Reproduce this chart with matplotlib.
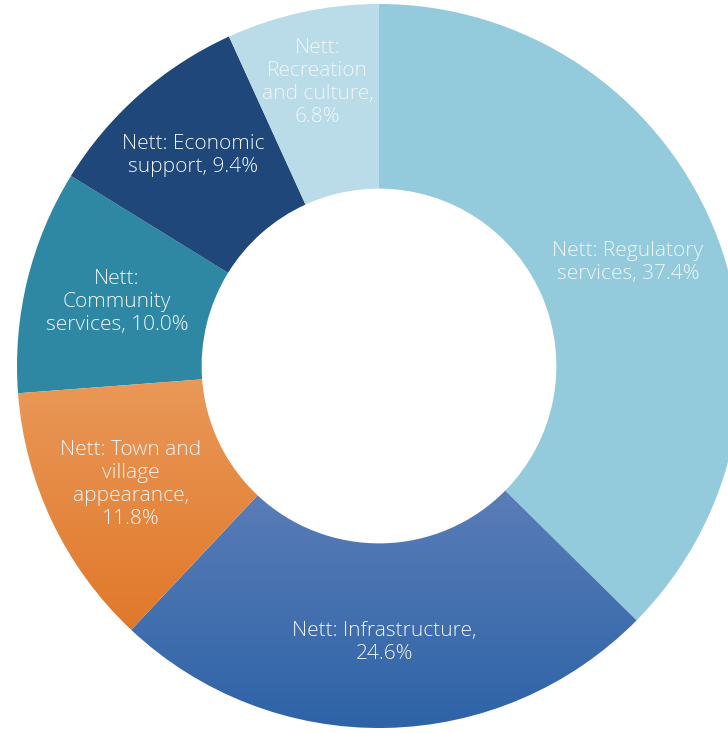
import numpy as np
import matplotlib.pyplot as plt
from matplotlib.colors import LinearSegmentedColormap

# spending shares, clockwise from 12 o'clock
labels = ["Nett: Regulatory\nservices, 37.4%",
          "Nett: Infrastructure,\n24.6%",
          "Nett: Town and\nvillage\nappearance,\n11.8%",
          "Nett:\nCommunity\nservices, 10.0%",
          "Nett: Economic\nsupport, 9.4%",
          "Nett:\nRecreation\nand culture,\n6.8%"]
shares = [37.4, 24.6, 11.8, 10.0, 9.4, 6.8]

colours = ["#93CADC", "#3F6FAF", "#E8883C", "#2F88A3", "#1F4779", "#B9DCE8"]
# top / bottom shade for the wedges that fade vertically
fades = {1: ("#5A7DB7", "#2D63A7"), 2: ("#EA9858", "#E0782A")}
label_r = [0.745, 0.765, 0.76, 0.745, 0.775, 0.80]

fig = plt.figure(figsize=(7.28, 7.33), dpi=100)
ax = fig.add_axes([0, 0, 1, 1])

wedges, texts = ax.pie(shares, colors=colours, startangle=90, counterclock=False,
                       radius=1.0, labels=labels, labeldistance=0.76,
                       wedgeprops=dict(width=0.51, linewidth=0),
                       textprops=dict(color="#f2f6f9", fontsize=15,
                                      family=["Open Sans", "DejaVu Sans"],
                                      fontweight="light",
                                      ha="center", va="center",
                                      multialignment="center", linespacing=1.2))

# vertical colour fade painted inside the wedge outline
for i, (top, bot) in fades.items():
    w = wedges[i]
    grad = np.linspace(0, 1, 256).reshape(-1, 1)
    cmap = LinearSegmentedColormap.from_list("fade%d" % i, [top, bot])
    ext = w.get_path().get_extents()
    im = ax.imshow(grad, cmap=cmap, aspect="auto", origin="upper",
                   extent=(ext.x0, ext.x1, ext.y0, ext.y1), zorder=w.get_zorder())
    im.set_clip_path(w)
    w.set_alpha(0)

# move each label to its own distance along the wedge's mid angle
for w, t, r in zip(wedges, texts, label_r):
    ang = np.deg2rad((w.theta1 + w.theta2) / 2)
    t.set_position((r * np.cos(ang), r * np.sin(ang)))
    t.set_horizontalalignment("center")
    t.set_zorder(5)

R = 362.0
ax.set_aspect("auto")
ax.set_xlim(-379 / R, (728 - 379) / R)
ax.set_ylim(-(733 - 366) / R, 366 / R)
ax.axis("off")

fig.savefig("out.png", dpi=100)
